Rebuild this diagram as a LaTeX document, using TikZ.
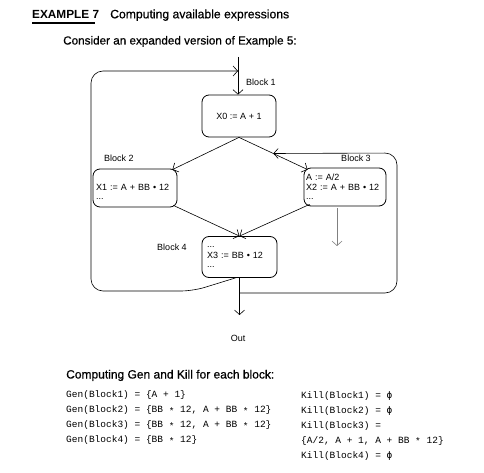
\documentclass[tikz,border=0pt]{standalone}
\usepackage{fontspec}
\setmainfont{Liberation Sans}
\setmonofont{Liberation Mono}
\newfontfamily\medsans[FakeBold=0.6]{Liberation Sans}
\newfontfamily\phifont{DejaVu Sans Mono}
\newcommand{\lowast}{\raisebox{-1.8pt}{*}}
\newcommand{\emptyphi}{{\phifont ϕ}}
\usetikzlibrary{arrows.meta,calc}
\begin{document}
\begin{tikzpicture}[x=1pt,y=-1pt,
  blk/.style={draw,rounded corners=7pt,line width=0.8pt,inner sep=0pt,
    font=\fontsize{9}{11}\selectfont},
  lbl/.style={font=\fontsize{9}{11}\selectfont,inner sep=0pt},
  txt/.style={inner sep=0pt,anchor=base west},
  code/.style={inner sep=0pt,anchor=base west,font=\fontsize{9.5}{12}\ttfamily},
  edge/.style={line width=0.6pt,-{Straight Barb[length=4.5pt,width=10pt]}},
  loopline/.style={edge,rounded corners=12pt}
]
\useasboundingbox (0,0) rectangle (484,473);

% title
\node[txt,font=\fontsize{11.8}{13}\bfseries] (t1) at (32,18.3) {EXAMPLE 7};
\draw[line width=1.3pt] (32,23) -- (95,23);
\node[txt,font=\fontsize{12.2}{14}\medsans] (t2) at (110,18.3) {Computing available expressions};
\node[txt,font=\fontsize{11.7}{14}\medsans] (t3) at (63,44.5) {Consider an expanded version of Example 5:};

% blocks
\node[blk,minimum width=74pt,minimum height=42pt] (b1) at (239,116) {X0 := A + 1};
\node[blk,minimum width=84pt,minimum height=38pt,text width=78pt,align=left] (b2) at (135,188)
  {\rule{0pt}{13pt}X1 := A + BB • 12\\[-2pt]...};
\node[blk,minimum width=82pt,minimum height=38pt,text width=78pt,align=left] (b3) at (345,187)
  {A := A/2\\[-1pt]X2 := A + BB • 12\\[-2pt]...};
\node[blk,minimum width=75pt,minimum height=41pt,text width=65pt,align=left] (b4) at (239.5,257)
  {...\\X3 := BB • 12\\[-2pt]...};

\node[lbl] (l1) at (261,82) {Block 1};
\node[lbl] (l2) at (119,158) {Block 2};
\node[lbl] (l3) at (356,158) {Block 3};
\node[lbl] (l4) at (172,247) {Block 4};

% coordinates
\coordinate (entry) at (238,57);
\coordinate (t13) at ($(b3.north west)+(4,2)$);
\coordinate (t12) at ($(b2.north east)+(-5,1)$);
\coordinate (m13) at ($(b1.south)!0.5!(t13)$);
\coordinate (j) at (b4.south |- 0,293);
\coordinate (outc) at (b4.south |- 0,315);
\coordinate (b3end) at (337,246);

% edges
\draw[edge] (entry) -- (entry |- b1.north);
\draw[edge] (b1.south) -- (t12);
\draw[edge] (b1.south) -- (t13);
\draw[edge] ($(b2.south east)+(-4,-2)$) -- (b4.north);
\draw[edge] ($(b3.south west)+(6,-2)$) -- (b4.north);
\draw[edge,gray] (b3end |- b3.south) ++(0,2) -- (b3end);
\draw[edge] (b4.south) -- (outc);
\draw[loopline] ($(b4.south)+(-4,0)$) -- (193,291) -- (91,291) -- (91,71) -- (entry |- 0,71);
\draw[loopline] (j) -- (397,293) -- (397,153) -- (m13);

\node[lbl] (out) at (238,338) {Out};

% Gen / Kill
\node[txt,font=\fontsize{12}{14}\medsans] (h) at (66,378.5) {Computing Gen and Kill for each block:};
\node[code] (g1) at (66,397.2) {Gen(Block1) = \{A + 1\}};
\node[code] (g2) at (66,412.2) {Gen(Block2) = \{BB \lowast{} 12, A + BB \lowast{} 12\}};
\node[code] (g3) at (66,427.2) {Gen(Block3) = \{BB \lowast{} 12, A + BB \lowast{} 12\}};
\node[code] (g4) at (66,442.2) {Gen(Block4) = \{BB \lowast{} 12\}};
\node[code] (k1) at (301,398) {Kill(Block1) = \emptyphi};
\node[code] (k2) at (301,413) {Kill(Block2) = \emptyphi};
\node[code] (k3) at (301,428) {Kill(Block3) =};
\node[code] (k4) at (301,443) {\{A/2, A + 1, A + BB \lowast{} 12\}};
\node[code] (k5) at (301,458) {Kill(Block4) = \emptyphi};
\end{tikzpicture}
\end{document}
